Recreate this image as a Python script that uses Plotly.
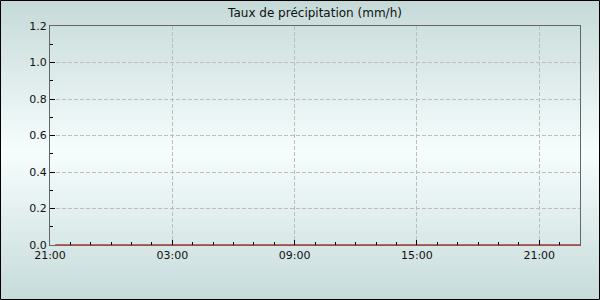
import plotly.graph_objects as go

# Data
times = ["2024-01-01 21:15", "2024-01-02 00:00", "2024-01-02 03:00", "2024-01-02 06:00",
         "2024-01-02 09:00", "2024-01-02 12:00", "2024-01-02 15:00", "2024-01-02 18:00",
         "2024-01-02 21:00", "2024-01-02 23:00"]
rain_rate = [0, 0, 0, 0, 0, 0, 0, 0, 0, 0]
title_text = "Taux de précipitation (mm/h)"
x_range = ["2024-01-01 21:00", "2024-01-02 23:00"]
y_range = [0, 1.2]

W, H = 600, 300
L, R, T, B = 50, 20, 26, 55
PW, PH = W - L - R, H - T - B

def px_to_paper_x(px):
    return (px - L) / PW

def py_to_paper_y(py):
    return (H - B - py) / PH

def lerp(a, b, t):
    return tuple(round(a[i] + (b[i] - a[i]) * t) for i in range(3))

top_c = (197, 218, 216)
mid_c = (246, 253, 253)
bot_c = (198, 219, 218)
mid_y = 152

shapes = []
step = 3
for py in range(0, H, step):
    yc = py + step / 2
    if yc <= mid_y:
        c = lerp(top_c, mid_c, yc / mid_y)
    else:
        c = lerp(mid_c, bot_c, (yc - mid_y) / (H - mid_y))
    shapes.append(dict(type="rect", xref="paper", yref="paper", layer="below",
                       x0=px_to_paper_x(0), x1=px_to_paper_x(W),
                       y0=py_to_paper_y(py + step + 0.5), y1=py_to_paper_y(py),
                       fillcolor="rgb(%d,%d,%d)" % c, line=dict(width=0)))

# outer black border
shapes.append(dict(type="rect", xref="paper", yref="paper", layer="above",
                   x0=px_to_paper_x(0.5), x1=px_to_paper_x(W - 0.5),
                   y0=py_to_paper_y(H - 0.5), y1=py_to_paper_y(0.5),
                   line=dict(color="black", width=1)))

fig = go.Figure()
fig.add_trace(go.Scatter(x=times, y=rain_rate, mode="lines",
                         line=dict(color="#e35252", width=2), cliponaxis=False,
                         hoverinfo="skip"))

fig.update_layout(
    width=W, height=H,
    margin=dict(l=L, r=R, t=T, b=B, pad=0),
    paper_bgcolor="rgba(0,0,0,0)",
    plot_bgcolor="rgba(0,0,0,0)",
    showlegend=False,
    font=dict(family="DejaVu Sans", size=11, color="#111"),
    title=dict(text=title_text, x=0.5, xref="paper", xanchor="center",
               y=1 - 13 / H, yref="container", yanchor="middle",
               font=dict(family="DejaVu Sans", size=12, color="#111")),
    shapes=shapes,
)

grid_dash = "4px,2px"
fig.update_xaxes(
    type="date", range=x_range,
    tick0="2024-01-01 21:00", dtick=6 * 3600 * 1000, tickformat="%H:%M",
    ticks="inside", ticklen=5, tickwidth=1, tickcolor="black",
    minor=dict(dtick=3600 * 1000, ticks="inside", ticklen=3, tickcolor="black", showgrid=False),
    showline=True, mirror=True, linecolor="#666", linewidth=1,
    showgrid=True, gridcolor="#bdbdbd", griddash=grid_dash, gridwidth=1,
    zeroline=False, fixedrange=True,
)
fig.update_yaxes(
    range=y_range, dtick=0.2, tick0=0, tickformat=".1f",
    ticks="inside", ticklen=5, tickwidth=1, tickcolor="black",
    minor=dict(dtick=0.1, ticks="inside", ticklen=3, tickcolor="black", showgrid=False),
    showline=True, mirror=True, linecolor="#666", linewidth=1,
    showgrid=True, gridcolor="#bdbdbd", griddash=grid_dash, gridwidth=1,
    zeroline=False, fixedrange=True,
)

fig.write_html("out.html", config={"displayModeBar": False})
